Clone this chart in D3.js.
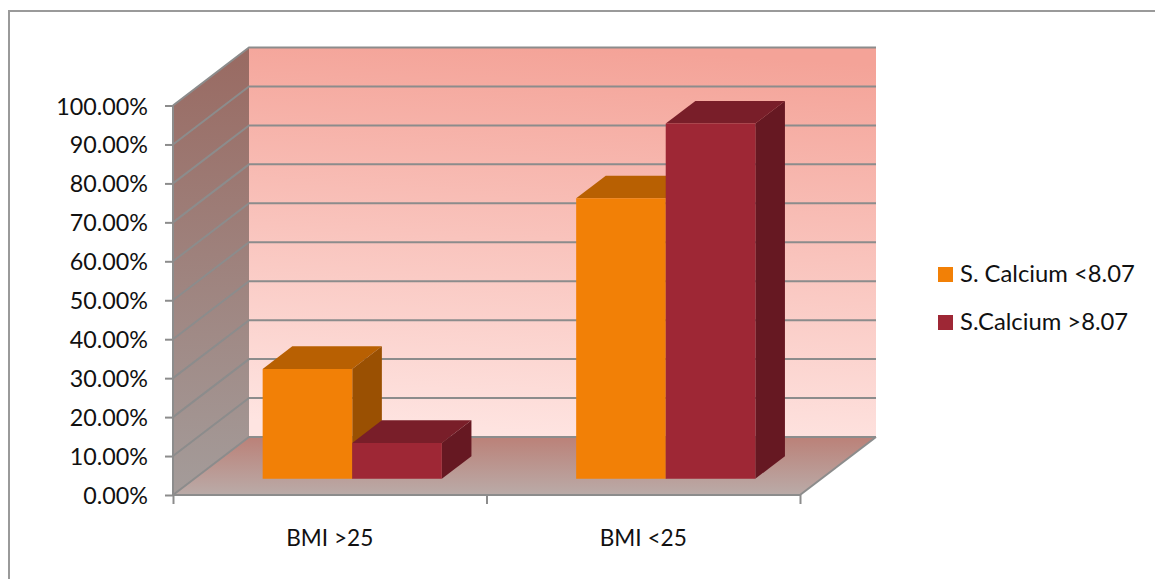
<!DOCTYPE html>
<html>
<head>
<meta charset="utf-8">
<script src="https://cdnjs.cloudflare.com/ajax/libs/d3/7.8.5/d3.min.js"></script>
<style>
  html, body { margin: 0; padding: 0; background: #fff; }
  svg { display: block; }
  text { font-family: Lato, "Open Sans", sans-serif; fill: #111; }
</style>
</head>
<body>
<svg id="chart" width="1155" height="579"></svg>
<script>
// Chart data
const categories = ["BMI >25", "BMI <25"];
const seriesNames = ["S. Calcium <8.07", "S.Calcium >8.07"];
const calciumLow = [28.2, 72.0];
const calciumHigh = [9.2, 91.2];
const yTicks = [0, 10, 20, 30, 40, 50, 60, 70, 80, 90, 100];

// Face colours per series: front, top, side
const faceColors = [
  { front: "#f28006", top: "#b86002", side: "#9a5002" },
  { front: "#9e2735", top: "#791e29", side: "#661822" }
];

const svg = d3.select("#chart");
const gridColor = "#8c8c8c";

// Front plane of the plot box and the oblique depth vector
const plot = { left: 173, right: 800, bottom: 495, top: 105.5 };
const depth = { dx: 76, dy: -58 };
const barDepth = { start: 0.28, size: 0.39, shiftX: 1.2 };

const x = d3.scaleBand().domain(categories).range([plot.left, plot.right]);
const inner = d3.scaleBand().domain(d3.range(seriesNames.length))
  .range([0, x.bandwidth()]).paddingOuter(0.75).paddingInner(0);
const y = d3.scaleLinear().domain([0, 100]).range([plot.bottom, plot.top]);

// Oblique projection: plot coordinates at depth d (0 front, 1 back)
const project = (px, py, d) => [px + depth.dx * d, py + depth.dy * d];
const poly = pts => pts.map(p => p.join(",")).join(" ");

// Gradients for the walls and floor
const defs = svg.append("defs");
function gradient(id, stops, x1, x2) {
  const g = defs.append("linearGradient").attr("id", id)
    .attr("x1", x1).attr("y1", 0).attr("x2", x2).attr("y2", 1);
  stops.forEach(([o, c]) => g.append("stop").attr("offset", o).attr("stop-color", c));
}
gradient("backWall", [[0, "#f4a398"], [1, "#fee4e1"]], 0.55, 0.45);
gradient("sideWall", [[0, "#996a62"], [1, "#a49c9a"]], 0.5, 0.5);
gradient("floor", [[0, "#bb8178"], [1, "#baaba8"]], 0.5, 0.5);

// Outer frame: only the top and left edges
svg.append("path")
  .attr("d", "M9,579V11H1155")
  .attr("fill", "none").attr("stroke", "#9a9a9a").attr("stroke-width", 2);

// Back wall, left wall, floor
svg.append("polygon").attr("fill", "url(#backWall)").attr("points", poly([
  project(plot.left, y(100), 1), project(plot.right, y(100), 1),
  project(plot.right, y(0), 1), project(plot.left, y(0), 1)
]));
svg.append("polygon").attr("fill", "url(#sideWall)").attr("points", poly([
  project(plot.left, y(100), 0), project(plot.left, y(100), 1),
  project(plot.left, y(0), 1), project(plot.left, y(0), 0)
]));
svg.append("polygon").attr("fill", "url(#floor)").attr("points", poly([
  project(plot.left, y(0), 0), project(plot.left, y(0), 1),
  project(plot.right, y(0), 1), project(plot.right, y(0), 0)
]));

// Gridlines run along the left wall and then across the back wall
svg.append("g").selectAll("polyline").data(yTicks).join("polyline")
  .attr("fill", "none").attr("stroke", gridColor).attr("stroke-width", 2)
  .attr("points", t => poly([
    project(plot.left, y(t), 0), project(plot.left, y(t), 1), project(plot.right, y(t), 1)
  ]));

// Right-hand edge of the floor
svg.append("line")
  .attr("x1", plot.right).attr("y1", y(0))
  .attr("x2", project(plot.right, y(0), 1)[0]).attr("y2", project(plot.right, y(0), 1)[1])
  .attr("stroke", gridColor).attr("stroke-width", 2);

// Value axis
const yAxis = svg.append("g").attr("transform", `translate(${plot.left},0)`)
  .call(d3.axisLeft(y).tickValues(yTicks).tickSize(8).tickPadding(17)
    .tickFormat(d => d.toFixed(2) + "%"));
yAxis.selectAll("path, line").attr("stroke", gridColor).attr("stroke-width", 2);
yAxis.select("path").attr("d", `M0,${y(0)}V${y(100)}`);
yAxis.selectAll("text")
  .attr("font-size", 23.3)
  .attr("dy", 8.5)
  .style("font-family", "Lato, sans-serif")
  .attr("fill", "#111");

// Category axis: ticks on the band edges, labels centred in each band
const edges = d3.scaleLinear().domain([0, categories.length]).range([plot.left, plot.right]);
const xTicks = svg.append("g").attr("transform", `translate(0,${plot.bottom})`)
  .call(d3.axisBottom(edges).ticks(categories.length).tickSize(9).tickFormat(""));
xTicks.selectAll("path, line").attr("stroke", gridColor).attr("stroke-width", 2);
xTicks.select("path").attr("d", `M${plot.left},0H${plot.right}`);

svg.append("g").selectAll("text").data(categories).join("text")
  .attr("x", d => x(d) + x.bandwidth() / 2)
  .attr("y", 545.5)
  .attr("text-anchor", "middle")
  .attr("font-size", 22.6)
  .text(d => d);

// 3D bars: top and side first, then the front face
const series = [calciumLow, calciumHigh];
const bars = svg.append("g");
categories.forEach((cat, i) => {
  series.forEach((values, s) => {
    const v = values[i];
    const x0 = x(cat) + inner(s) + barDepth.shiftX;
    const x1 = x0 + inner.bandwidth();
    const d0 = barDepth.start, d1 = barDepth.start + barDepth.size;
    const c = faceColors[s];
    const g = bars.append("g");
    g.append("polygon").attr("fill", c.top).attr("points", poly([
      project(x0, y(v), d0), project(x0, y(v), d1), project(x1, y(v), d1), project(x1, y(v), d0)
    ]));
    g.append("polygon").attr("fill", c.side).attr("points", poly([
      project(x1, y(v), d0), project(x1, y(v), d1), project(x1, y(0), d1), project(x1, y(0), d0)
    ]));
    g.append("polygon").attr("fill", c.front).attr("points", poly([
      project(x0, y(v), d0), project(x1, y(v), d0), project(x1, y(0), d0), project(x0, y(0), d0)
    ]));
  });
});

// Legend
const legendY = d3.scalePoint().domain(seriesNames).range([274.5, 322.5]);
const legend = svg.append("g").selectAll("g").data(seriesNames).join("g")
  .attr("transform", d => `translate(938,${legendY(d)})`);
legend.append("rect").attr("x", 0).attr("y", -7.5).attr("width", 15).attr("height", 15)
  .attr("fill", (d, i) => faceColors[i].front);
legend.append("text").attr("x", 22).attr("y", 7.5).attr("font-size", 23.8)
  .text(d => d);
</script>
</body>
</html>
